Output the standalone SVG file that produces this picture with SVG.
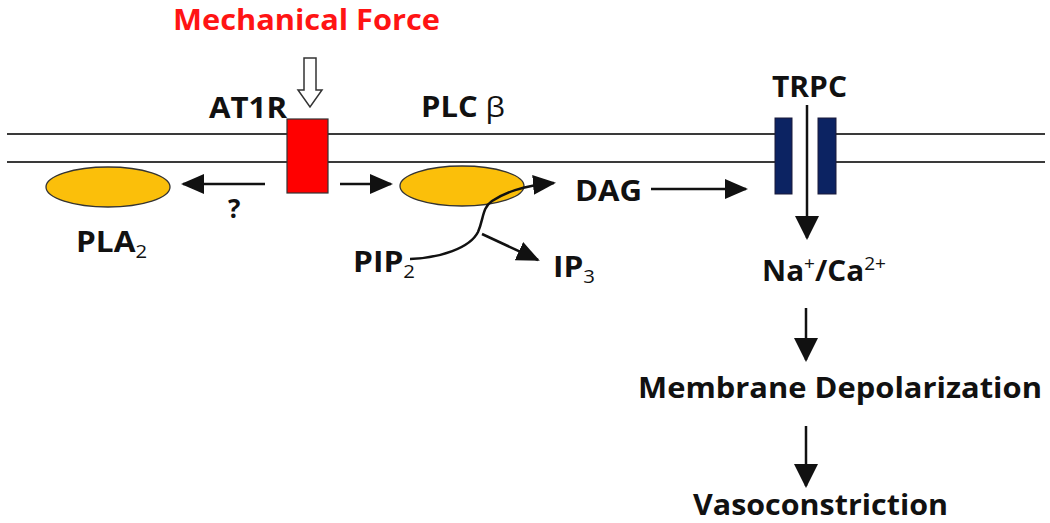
<svg xmlns="http://www.w3.org/2000/svg" width="1050" height="523" viewBox="0 0 1050 523">
<style>
text{font-family:"Open Sans","Liberation Sans",sans-serif;font-weight:bold;fill:#111;font-size:28px}
.sub{font-weight:normal;font-size:18px}
.big{font-size:29px}
.mem{stroke:#3a3a3a;stroke-width:2;fill:none}
.con{stroke:#111;stroke-width:2.5;fill:none;marker-end:url(#ah)}
.vcon{stroke:#111;stroke-width:2.5;fill:none;marker-end:url(#ahv)}
.enz{fill:#fbbf0a;stroke:#333;stroke-width:1.3}
.trpc{fill:#0c2362;stroke:#1a1a3a;stroke-width:1}
</style>
<defs>
<marker id="ah" viewBox="0 0 23 20" refX="21" refY="10" markerWidth="23" markerHeight="20" markerUnits="userSpaceOnUse" orient="auto">
<path d="M0,0 L23,10 L0,20 z" fill="#111"/>
</marker>
<marker id="ahv" viewBox="0 0 24 24" refX="22" refY="12" markerWidth="24" markerHeight="24" markerUnits="userSpaceOnUse" orient="auto">
<path d="M0,0 L24,12 L0,24 z" fill="#111"/>
</marker>
</defs>
<rect width="1050" height="523" fill="#fff"/>

<g id="membrane">
<line class="mem" x1="7" y1="134" x2="775" y2="134"/>
<line class="mem" x1="7" y1="162" x2="775" y2="162"/>
<line class="mem" x1="836" y1="134" x2="1045" y2="134"/>
<line class="mem" x1="836" y1="162" x2="1045" y2="162"/>
</g>

<g id="mechanical-force">
<text x="173" y="30" textLength="267" lengthAdjust="spacingAndGlyphs" style="fill:#ff1414;font-size:28px">Mechanical Force</text>
<path d="M304,58 H316 V90 H322 L310,107 L298,90 H304 Z" fill="#fff" stroke="#333" stroke-width="1.5"/>
</g>

<g id="at1r">
<text x="209" y="118" textLength="78" lengthAdjust="spacingAndGlyphs">AT1R</text>
<rect x="287" y="119" width="41" height="74" fill="#ff0000" stroke="#333" stroke-width="1.2"/>
</g>

<g id="pla2">
<ellipse class="enz" cx="108" cy="187" rx="62" ry="20"/>
<text x="76" y="252" textLength="71" lengthAdjust="spacingAndGlyphs">PLA<tspan class="sub" dy="6">2</tspan></text>
</g>

<g id="plcb">
<ellipse class="enz" cx="462" cy="186" rx="62" ry="20"/>
<text x="421" y="117" textLength="84" lengthAdjust="spacingAndGlyphs">PLC <tspan style="font-weight:normal">β</tspan></text>
</g>

<g id="pip2">
<text x="353" y="272" textLength="62" lengthAdjust="spacingAndGlyphs">PIP<tspan class="sub" dy="6">2</tspan></text>
</g>

<g id="ip3">
<text x="553" y="277" textLength="42" lengthAdjust="spacingAndGlyphs">IP<tspan class="sub" dy="6">3</tspan></text>
</g>

<g id="dag">
<text x="575" y="201" textLength="67" lengthAdjust="spacingAndGlyphs">DAG</text>
</g>

<g id="trpc">
<text x="772" y="97" textLength="75" lengthAdjust="spacingAndGlyphs">TRPC</text>
<rect class="trpc" x="775" y="118" width="17" height="76"/>
<rect class="trpc" x="818" y="118" width="18" height="76"/>
</g>

<g id="ions">
<text x="762" y="281" textLength="124" lengthAdjust="spacingAndGlyphs">Na<tspan class="sub" dy="-11">+</tspan><tspan dy="11">/Ca</tspan><tspan class="sub" dy="-11">2+</tspan></text>
</g>

<g id="depolarization">
<text class="big" x="638" y="398" textLength="404" lengthAdjust="spacingAndGlyphs">Membrane Depolarization</text>
</g>

<g id="vasoconstriction">
<text class="big" x="693" y="515" textLength="255" lengthAdjust="spacingAndGlyphs">Vasoconstriction</text>
</g>

<g id="connectors">
<line class="con" x1="265" y1="184" x2="183" y2="184"/>
<text x="228" y="218" style="font-size:26px">?</text>
<line class="con" x1="340" y1="184" x2="391" y2="184"/>
<path class="con" d="M410,259 C440,258 470,248 478,232 C484,218 482,208 492,201 C505,193 520,186 554,183"/>
<line class="con" x1="482" y1="234" x2="538" y2="260"/>
<line class="con" x1="651" y1="189" x2="746" y2="189"/>
<line class="vcon" x1="807" y1="105" x2="807" y2="238"/>
<line class="vcon" x1="806" y1="308" x2="806" y2="360"/>
<line class="vcon" x1="806" y1="426" x2="806" y2="486"/>
</g>
</svg>
